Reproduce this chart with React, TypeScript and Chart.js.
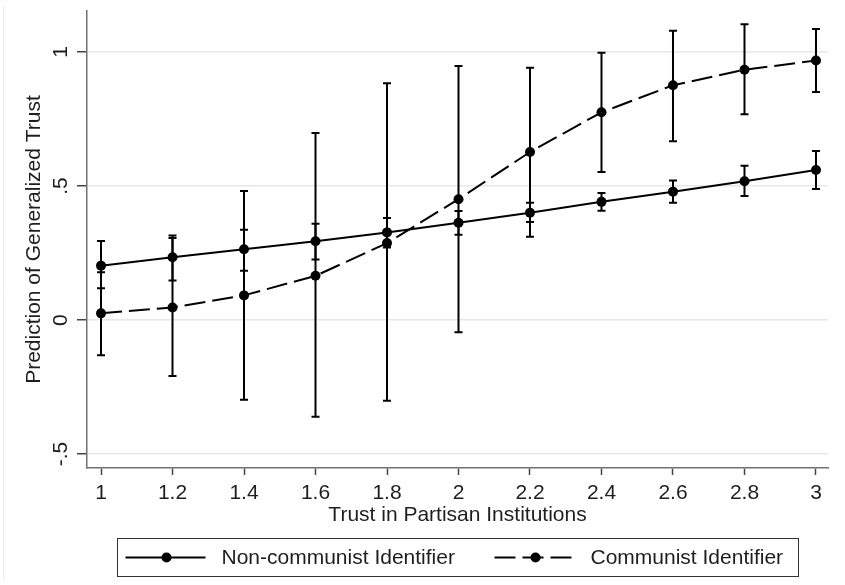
import React, { useEffect, useRef } from "react";
import { Chart, registerables } from "chart.js";

Chart.register(...registerables);

const xValues = [1, 1.2, 1.4, 1.6, 1.8, 2, 2.2, 2.4, 2.6, 2.8, 3];
const xTickLabels = ["1", "1.2", "1.4", "1.6", "1.8", "2", "2.2", "2.4", "2.6", "2.8", "3"];
const yTickValues = [-0.5, 0, 0.5, 1];
const yTickLabels = ["-.5", "0", ".5", "1"];

const nonCommunist = [0.203, 0.234, 0.264, 0.294, 0.327, 0.363, 0.4, 0.441, 0.479, 0.518, 0.56];
const nonCommunistLow = [0.119, 0.148, 0.184, 0.226, 0.271, 0.318, 0.366, 0.408, 0.438, 0.463, 0.489];
const nonCommunistHigh = [0.295, 0.306, 0.337, 0.359, 0.381, 0.407, 0.438, 0.474, 0.521, 0.576, 0.631];

const communist = [0.025, 0.047, 0.092, 0.165, 0.287, 0.451, 0.627, 0.775, 0.876, 0.934, 0.968];
const communistLow = [-0.131, -0.209, -0.297, -0.361, -0.301, -0.046, 0.311, 0.552, 0.667, 0.768, 0.851];
const communistHigh = [0.178, 0.315, 0.481, 0.698, 0.883, 0.948, 0.941, 0.997, 1.079, 1.104, 1.086];

const seriesNames = ["Non-communist Identifier", "Communist Identifier"];
const xTitle = "Trust in Partisan Institutions";
const yTitle = "Prediction of Generalized Trust";

const FONT = "'Liberation Sans', Arial, sans-serif";
const TEXT = "#1e1e1e";
const DASH = [21, 7];

const errorBarPlugin = {
  id: "errorBars",
  beforeDatasetsDraw(chart: any) {
    const { ctx, scales } = chart;
    const xs = scales.x;
    const ys = scales.y;
    const sets = [
      [nonCommunistLow, nonCommunistHigh],
      [communistLow, communistHigh],
    ];
    ctx.save();
    ctx.strokeStyle = "#000";
    ctx.lineWidth = 2;
    ctx.lineCap = "butt";
    sets.forEach(([lo, hi]) => {
      xValues.forEach((xv, i) => {
        const px = xs.getPixelForValue(xv);
        const y1 = ys.getPixelForValue(lo[i]);
        const y2 = ys.getPixelForValue(hi[i]);
        ctx.beginPath();
        ctx.moveTo(px, y1);
        ctx.lineTo(px, y2);
        ctx.moveTo(px - 4, y1);
        ctx.lineTo(px + 4, y1);
        ctx.moveTo(px - 4, y2);
        ctx.lineTo(px + 4, y2);
        ctx.stroke();
      });
    });
    ctx.restore();
  },
};

const legendPlugin = {
  id: "boxLegend",
  afterDraw(chart: any) {
    const { ctx, chartArea } = chart;
    ctx.save();
    // faint outer frame line on the left
    ctx.strokeStyle = "#ececec";
    ctx.lineWidth = 1;
    ctx.beginPath();
    ctx.moveTo(3.5, 5);
    ctx.lineTo(3.5, chart.height - 5);
    ctx.stroke();

    const boxW = 681;
    const boxH = 38;
    const cx = (chartArea.left + chartArea.right) / 2;
    const left = Math.round(cx - boxW / 2) + 0.5;
    const top = chartArea.bottom + 70.5;
    ctx.strokeStyle = "#333";
    ctx.lineWidth = 1;
    ctx.strokeRect(left, top, boxW, boxH);

    const midY = top + boxH / 2;
    ctx.font = `21px ${FONT}`;
    ctx.fillStyle = TEXT;
    ctx.textBaseline = "middle";
    ctx.textAlign = "left";

    const items = [
      { start: 8, dash: [] as number[] },
      { start: 377, dash: DASH },
    ];
    items.forEach((it, idx) => {
      const x0 = left + it.start;
      const x1 = x0 + 80;
      ctx.strokeStyle = "#000";
      ctx.lineWidth = 2;
      ctx.setLineDash(it.dash);
      ctx.beginPath();
      ctx.moveTo(x0, midY);
      ctx.lineTo(x1, midY);
      ctx.stroke();
      ctx.setLineDash([]);
      ctx.fillStyle = "#000";
      ctx.beginPath();
      ctx.arc(x0 + 41, midY, 5, 0, Math.PI * 2);
      ctx.fill();
      ctx.fillStyle = TEXT;
      ctx.fillText(seriesNames[idx], x1 + 16, midY + 1);
    });
    ctx.restore();
  },
};

export default function App() {
  const ref = useRef<HTMLCanvasElement | null>(null);

  useEffect(() => {
    if (!ref.current) return;
    Chart.defaults.font.family = FONT;
    const chart = new Chart(ref.current, {
      type: "line",
      data: {
        datasets: [
          {
            label: seriesNames[0],
            data: xValues.map((x, i) => ({ x, y: nonCommunist[i] })),
            borderColor: "#000",
            backgroundColor: "#000",
            borderWidth: 2,
            pointRadius: 5,
            pointBorderWidth: 0,
            pointBackgroundColor: "#000",
            tension: 0,
            fill: false,
          },
          {
            label: seriesNames[1],
            data: xValues.map((x, i) => ({ x, y: communist[i] })),
            borderColor: "#000",
            backgroundColor: "#000",
            borderWidth: 2,
            borderDash: DASH,
            pointRadius: 5,
            pointBorderWidth: 0,
            pointBackgroundColor: "#000",
            tension: 0,
            fill: false,
          },
        ],
      },
      options: {
        responsive: false,
        animation: false,
        devicePixelRatio: 1,
        layout: { padding: { left: 0, right: 17, top: 11, bottom: 57 } },
        plugins: {
          legend: { display: false },
          tooltip: { enabled: false },
        },
        scales: {
          x: {
            type: "linear",
            min: 0.9608,
            max: 3.0336,
            afterBuildTicks: (s: any) => {
              s.ticks = xValues.map((v) => ({ value: v }));
            },
            afterFit: (s: any) => {
              s.height = 60;
              s.paddingLeft = 0;
              s.paddingRight = 0;
            },
            border: { color: "#707070", width: 1.5 },
            grid: { drawOnChartArea: false, drawTicks: true, tickColor: "#444", tickLength: 7, tickWidth: 1.5 },
            ticks: {
              autoSkip: false,
              maxRotation: 0,
              minRotation: 0,
              padding: 6,
              color: TEXT,
              font: { size: 21 },
              callback: (_v: any, i: number) => xTickLabels[i],
            },
            title: { display: true, text: xTitle, color: TEXT, font: { size: 21 }, padding: { top: 0, bottom: 0 } },
          },
          y: {
            type: "linear",
            min: -0.552,
            max: 1.153,
            afterBuildTicks: (s: any) => {
              s.ticks = yTickValues.map((v) => ({ value: v }));
            },
            afterFit: (s: any) => {
              s.width = 87;
              s.paddingTop = 0;
              s.paddingBottom = 0;
            },
            border: { color: "#707070", width: 1.5 },
            grid: { color: "#e8e8e8", lineWidth: 1.5, drawTicks: true, tickColor: "#444", tickLength: 10, tickWidth: 1.5 },
            ticks: {
              minRotation: 90,
              maxRotation: 90,
              crossAlign: "center",
              padding: 4,
              color: TEXT,
              font: { size: 21 },
              callback: (_v: any, i: number) => yTickLabels[i],
            },
            title: { display: true, text: yTitle, color: TEXT, font: { size: 21 }, padding: { top: 22, bottom: 0 } },
          },
        },
      },
      plugins: [errorBarPlugin, legendPlugin],
    } as any);
    return () => chart.destroy();
  }, []);

  return (
    <div style={{ position: "fixed", left: 0, top: 0, width: 845, height: 585, background: "#fff" }}>
      <canvas ref={ref} width={845} height={585} />
    </div>
  );
}
